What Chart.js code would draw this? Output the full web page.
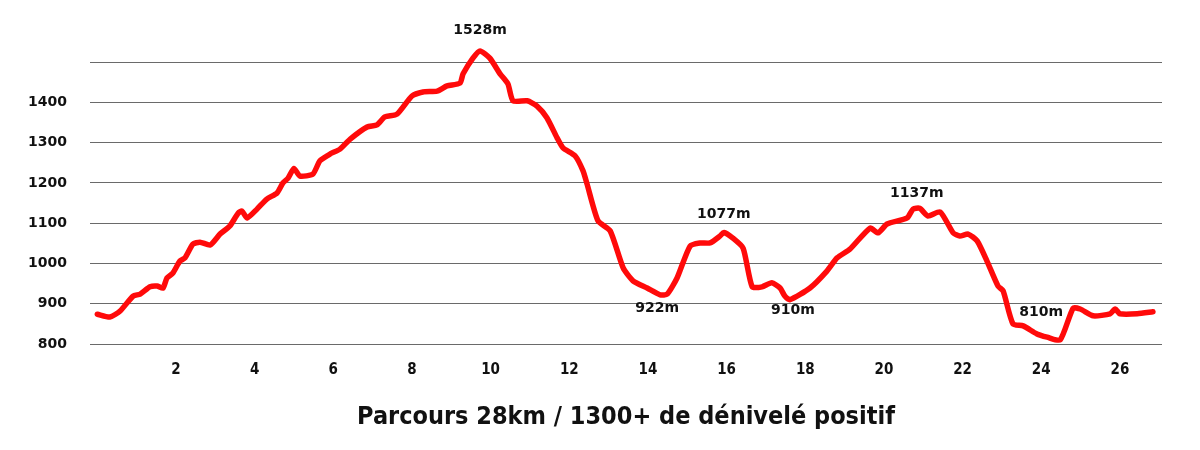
<!DOCTYPE html>
<html>
<head>
<meta charset="utf-8">
<script src="https://cdn.jsdelivr.net/npm/chart.js@4"></script>
<style>
    html, body { margin: 0; padding: 0; background: #fff; }
</style>
</head>
<body>
<canvas id="profileChart" width="1200" height="450"></canvas>
<script>
// distance in km
const distKm = [
    0, 0.32, 0.58, 0.91, 1.09, 1.34, 1.52, 1.67, 1.77, 1.92,
    2.10, 2.23, 2.43, 2.61, 2.87, 3.12, 3.37, 3.58, 3.68, 3.81,
    4.06, 4.31, 4.57, 4.72, 4.85, 5.00, 5.15, 5.48, 5.66, 5.92,
    6.17, 6.43, 6.86, 7.11, 7.31, 7.62, 8.00, 8.28, 8.64, 8.89,
    9.22, 9.30, 9.55, 9.73, 9.98, 10.24, 10.44, 10.57, 10.93, 11.18,
    11.43, 11.69, 11.84, 12.15, 12.35, 12.45, 12.73, 13.04, 13.37, 13.62,
    13.98, 14.31, 14.49, 14.74, 15.07, 15.32, 15.58, 15.83, 15.93, 16.16,
    16.42, 16.65, 16.90, 17.15, 17.36, 17.48, 17.61, 18.12, 18.55, 18.81,
    19.14, 19.65, 19.85, 20.08, 20.59, 20.74, 20.91, 21.12, 21.43, 21.76,
    21.93, 22.14, 22.37, 22.62, 22.90, 23.03, 23.28, 23.54, 23.89, 24.15,
    24.48, 24.81, 24.99, 25.32, 25.75, 25.88, 26.00, 26.44, 26.84
];

// altitude in m
const altitude = [
    874, 867, 882, 919, 924, 942, 944, 939, 964, 976,
    1006, 1014, 1048, 1053, 1046, 1073, 1093, 1125, 1130, 1113,
    1135, 1160, 1175, 1200, 1212, 1236, 1217, 1222, 1255, 1272,
    1284, 1309, 1339, 1344, 1364, 1371, 1416, 1426, 1428, 1441,
    1448, 1471, 1510, 1528, 1510, 1471, 1446, 1404, 1404, 1391,
    1362, 1312, 1287, 1267, 1230, 1198, 1106, 1081, 989, 957,
    939, 922, 924, 964, 1043, 1051, 1051, 1068, 1077, 1063,
    1038, 942, 942, 952, 939, 919, 910, 939, 981, 1014,
    1036, 1088, 1076, 1098, 1113, 1135, 1137, 1118, 1128, 1076,
    1068, 1073, 1056, 1006, 944, 932, 850, 845, 825, 817,
    810, 889, 887, 870, 875, 887, 875, 875, 880
];

const xTicks = [2, 4, 6, 8, 10, 12, 14, 16, 18, 20, 22, 24, 26];
const yTicks = [800, 900, 1000, 1100, 1200, 1300, 1400, 1500];

// marked summits / lows
const markKm = [9.73, 14.31, 15.93, 17.61, 20.91, 24.48];
const markAlt = [1528, 922, 1077, 910, 1137, 810];
const markText = ["1528m", "922m", "1077m", "910m", "1137m", "810m"];

const title = "Parcours 28km / 1300+ de dénivelé positif";

const points = distKm.map((d, i) => ({ x: d, y: altitude[i] }));

// text offsets for each mark, in px
const markOffset = [
    [0, -21], [-3, 13], [0, -18], [3, 11], [-3, -15], [-19, -28]
];

const markLabels = {
    id: "markLabels",
    afterDatasetsDraw(chart) {
        const ctx = chart.ctx;
        const xs = chart.scales.x;
        const ys = chart.scales.y;
        ctx.save();
        ctx.font = "bold 14px 'DejaVu Sans'";
        ctx.fillStyle = "#111";
        ctx.textAlign = "center";
        ctx.textBaseline = "middle";
        markKm.forEach((km, i) => {
            const px = xs.getPixelForValue(km) + markOffset[i][0];
            const py = ys.getPixelForValue(markAlt[i]) + markOffset[i][1];
            ctx.fillText(markText[i], px, py);
        });
        ctx.restore();
    }
};

const ctx = document.getElementById("profileChart").getContext("2d");

new Chart(ctx, {
    type: "line",
    data: {
        datasets: [
            {
                data: points,
                borderColor: "#ff0a0a",
                borderWidth: 5.5,
                tension: 0.2,
                pointRadius: 0,
                fill: false,
                borderCapStyle: "round",
                borderJoinStyle: "round"
            }
        ]
    },
    options: {
        responsive: false,
        animation: false,
        layout: {
            padding: { top: 38, right: 38, left: 0, bottom: 0 }
        },
        plugins: {
            legend: { display: false },
            tooltip: { enabled: false }
        },
        scales: {
            x: {
                type: "linear",
                min: -0.186,
                max: 27.07,
                afterBuildTicks: (scale) => {
                    scale.ticks = xTicks.map(v => ({ value: v }));
                },
                grid: { display: false, drawTicks: false },
                border: { display: false },
                ticks: {
                    padding: 17,
                    maxRotation: 0,
                    autoSkip: false,
                    color: "#111",
                    font: { family: "'DejaVu Sans Condensed', 'Liberation Sans'", weight: "bold", size: 15 }
                },
                title: {
                    display: true,
                    text: title,
                    color: "#111",
                    padding: { top: 6, bottom: 18 },
                    font: { family: "'DejaVu Sans Condensed', 'Liberation Sans'", weight: "bold", size: 25 }
                }
            },
            y: {
                min: 800,
                max: 1560,
                afterBuildTicks: (scale) => {
                    scale.ticks = yTicks.map(v => ({ value: v }));
                },
                afterFit: (scale) => {
                    scale.width = 90;
                },
                grid: {
                    color: "#6a6a6a",
                    lineWidth: 1,
                    drawTicks: false
                },
                border: { display: false },
                ticks: {
                    padding: 23,
                    color: "#111",
                    font: { family: "'DejaVu Sans'", weight: "bold", size: 14 },
                    callback: (v) => (v === 1500 ? "" : v)
                }
            }
        }
    },
    plugins: [markLabels]
});
</script>
</body>
</html>
